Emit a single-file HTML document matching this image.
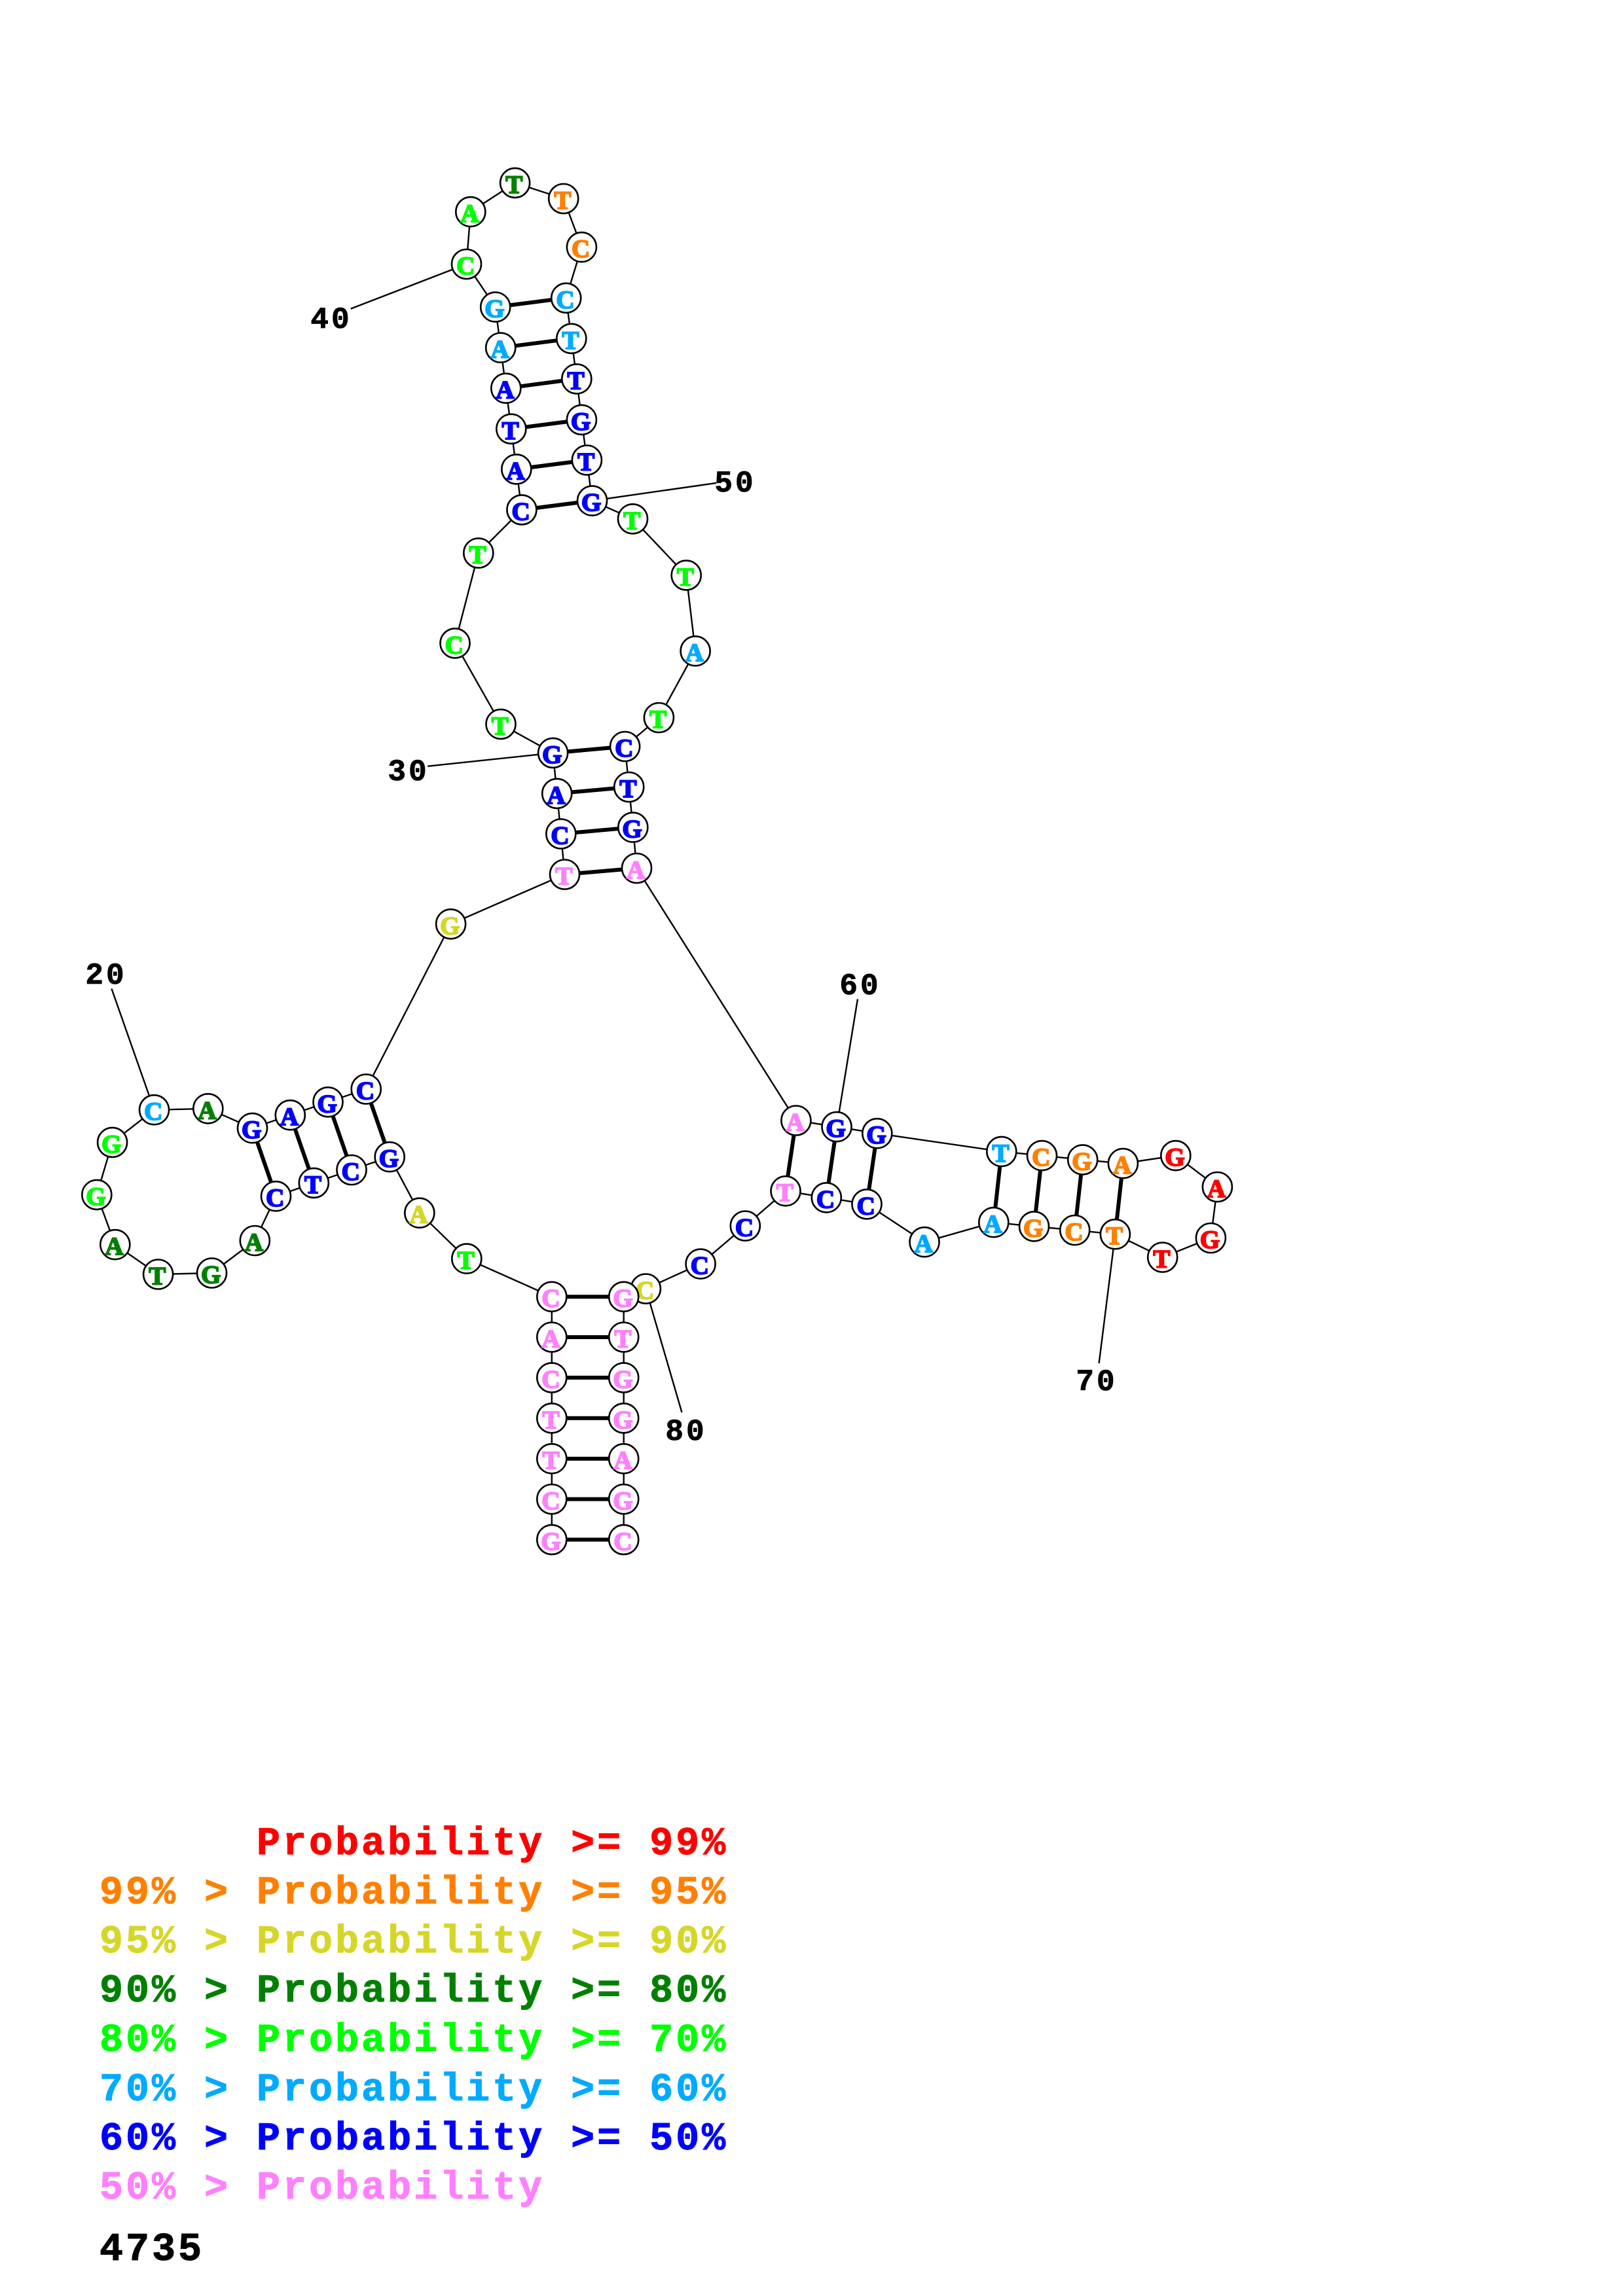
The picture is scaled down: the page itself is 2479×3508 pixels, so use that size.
<!DOCTYPE html>
<html><head><meta charset="utf-8"><style>
html,body{margin:0;padding:0;background:#fff}
svg{display:block}
.n circle{fill:#fff;stroke:#000;stroke-width:2.6}
.n text{font-family:"Liberation Serif",serif;font-weight:bold;font-size:39px;text-anchor:middle;stroke-width:2;paint-order:stroke}
.l{font-family:"Liberation Mono",monospace;font-weight:bold;font-size:46px;letter-spacing:4px;text-anchor:middle;fill:#000;stroke:#000;stroke-width:.8}
.k{font-family:"Liberation Mono",monospace;font-weight:bold;font-size:60px;letter-spacing:4px;white-space:pre;stroke-width:1}
.r{fill:#f00;stroke:#f00}.o{fill:#ff8000;stroke:#ff8000}.y{fill:#d6d62a;stroke:#d6d62a}.d{fill:#008000;stroke:#008000}.g{fill:#0f0;stroke:#0f0}.c{fill:#0af;stroke:#0af}.b{fill:#00f;stroke:#00f}.p{fill:#ff80ff;stroke:#ff80ff}
</style></head><body>
<svg xmlns="http://www.w3.org/2000/svg" width="2479" height="3508" viewBox="0 0 2479 3508">
<rect width="2479" height="3508" fill="#fff"/>
<polyline fill="none" stroke="#000" stroke-width="2.4" points="842.8,2352.4 842.8,2290.5 842.8,2228.7 842.8,2166.8 842.8,2104.9 842.8,2043 842.8,1981.2 712.8,1923.1 640.8,1853.2 595.2,1767.6 537,1787.5 479.3,1807.4 421.5,1827.7 389.3,1895.5 323.5,1945 241.6,1947 175.8,1901.6 147.8,1825.4 171.6,1745.4 235.5,1695.7 317.8,1693.8 385.5,1723.6 443.3,1703.7 501,1683.8 559.2,1664 688.6,1411.8 862.5,1336 856.8,1274 850.7,1212.4 844.6,1150.4 765,1106.4 695,982.8 730.8,845 796.9,778.9 788.8,716.9 780.8,655.3 772.8,593.2 764.7,531.2 756.7,469.1 712.5,403.5 718.8,323.6 786.6,279.4 860.7,303.5 888.4,377.6 864.7,455.3 872.8,517.3 880.8,578.9 888.4,641.4 896.4,703 904.5,765.1 966.5,792.8 1048.2,878.9 1062.1,994.7 1006.4,1096.5 954.6,1140.5 960.7,1202.5 966.8,1264.1 972.5,1326.5 1215.9,1712 1278,1721.6 1339.8,1731.7 1529.8,1759.4 1591.5,1765.6 1653.7,1771.9 1715.4,1777.6 1795.8,1765.6 1859.4,1813.5 1849.4,1891.5 1775.7,1921 1703.4,1885.7 1641.7,1879.5 1579.5,1873.8 1517.8,1867.6 1412,1897.7 1324,1839.8 1262.3,1829.8 1200,1819.7 1138.3,1873 1070.1,1931.1 986.4,1969 952.7,1981.2 952.7,2043 952.7,2104.9 952.7,2166.8 952.7,2228.7 952.7,2290.5 952.7,2352.4"/>
<g stroke="#000" stroke-width="2.4">
<line x1="235.5" y1="1695.7" x2="170.4" y2="1510.5"/>
<line x1="844.6" y1="1150.4" x2="653.2" y2="1170.7"/>
<line x1="712.5" y1="403.5" x2="535.7" y2="471.8"/>
<line x1="904.5" y1="765.1" x2="1094.2" y2="737.9"/>
<line x1="1278" y1="1721.6" x2="1310" y2="1526.4"/>
<line x1="1703.4" y1="1885.7" x2="1678.6" y2="2083"/>
<line x1="986.4" y1="1969" x2="1041.5" y2="2158"/>
</g>
<g stroke="#000" stroke-width="6">
<line x1="842.8" y1="1981.2" x2="952.7" y2="1981.2"/>
<line x1="842.8" y1="2043" x2="952.7" y2="2043"/>
<line x1="842.8" y1="2104.9" x2="952.7" y2="2104.9"/>
<line x1="842.8" y1="2166.8" x2="952.7" y2="2166.8"/>
<line x1="842.8" y1="2228.7" x2="952.7" y2="2228.7"/>
<line x1="842.8" y1="2290.5" x2="952.7" y2="2290.5"/>
<line x1="842.8" y1="2352.4" x2="952.7" y2="2352.4"/>
<line x1="595.2" y1="1767.6" x2="559.2" y2="1664"/>
<line x1="537" y1="1787.5" x2="501" y2="1683.8"/>
<line x1="479.3" y1="1807.4" x2="443.3" y2="1703.7"/>
<line x1="421.5" y1="1827.7" x2="385.5" y2="1723.6"/>
<line x1="862.5" y1="1336" x2="972.5" y2="1326.5"/>
<line x1="856.8" y1="1274" x2="966.8" y2="1264.1"/>
<line x1="850.7" y1="1212.4" x2="960.7" y2="1202.5"/>
<line x1="844.6" y1="1150.4" x2="954.6" y2="1140.5"/>
<line x1="796.9" y1="778.9" x2="904.5" y2="765.1"/>
<line x1="788.8" y1="716.9" x2="896.4" y2="703"/>
<line x1="780.8" y1="655.3" x2="888.4" y2="641.4"/>
<line x1="772.8" y1="593.2" x2="880.8" y2="578.9"/>
<line x1="764.7" y1="531.2" x2="872.8" y2="517.3"/>
<line x1="756.7" y1="469.1" x2="864.7" y2="455.3"/>
<line x1="1215.9" y1="1712" x2="1200" y2="1819.7"/>
<line x1="1278" y1="1721.6" x2="1262.3" y2="1829.8"/>
<line x1="1339.8" y1="1731.7" x2="1324" y2="1839.8"/>
<line x1="1529.8" y1="1759.4" x2="1517.8" y2="1867.6"/>
<line x1="1591.5" y1="1765.6" x2="1579.5" y2="1873.8"/>
<line x1="1653.7" y1="1771.9" x2="1641.7" y2="1879.5"/>
<line x1="1715.4" y1="1777.6" x2="1703.4" y2="1885.7"/>
</g>
<g class="n">
<circle cx="842.8" cy="2352.4" r="22.5"/><text x="841.5" y="2367.9" class="p">G</text>
<circle cx="842.8" cy="2290.5" r="22.5"/><text x="841.5" y="2306" class="p">C</text>
<circle cx="842.8" cy="2228.7" r="22.5"/><text x="841.5" y="2244.2" class="p">T</text>
<circle cx="842.8" cy="2166.8" r="22.5"/><text x="841.5" y="2182.3" class="p">T</text>
<circle cx="842.8" cy="2104.9" r="22.5"/><text x="841.5" y="2120.4" class="p">C</text>
<circle cx="842.8" cy="2043" r="22.5"/><text x="841.5" y="2058.5" class="p">A</text>
<circle cx="842.8" cy="1981.2" r="22.5"/><text x="841.5" y="1996.7" class="p">C</text>
<circle cx="712.8" cy="1923.1" r="22.5"/><text x="711.5" y="1938.6" class="g">T</text>
<circle cx="640.8" cy="1853.2" r="22.5"/><text x="639.5" y="1868.7" class="y">A</text>
<circle cx="595.2" cy="1767.6" r="22.5"/><text x="593.9" y="1783.1" class="b">G</text>
<circle cx="537" cy="1787.5" r="22.5"/><text x="535.7" y="1803" class="b">C</text>
<circle cx="479.3" cy="1807.4" r="22.5"/><text x="478" y="1822.9" class="b">T</text>
<circle cx="421.5" cy="1827.7" r="22.5"/><text x="420.2" y="1843.2" class="b">C</text>
<circle cx="389.3" cy="1895.5" r="22.5"/><text x="388" y="1911" class="d">A</text>
<circle cx="323.5" cy="1945" r="22.5"/><text x="322.2" y="1960.5" class="d">G</text>
<circle cx="241.6" cy="1947" r="22.5"/><text x="240.3" y="1962.5" class="d">T</text>
<circle cx="175.8" cy="1901.6" r="22.5"/><text x="174.5" y="1917.1" class="d">A</text>
<circle cx="147.8" cy="1825.4" r="22.5"/><text x="146.5" y="1840.9" class="g">G</text>
<circle cx="171.6" cy="1745.4" r="22.5"/><text x="170.3" y="1760.9" class="g">G</text>
<circle cx="235.5" cy="1695.7" r="22.5"/><text x="234.2" y="1711.2" class="c">C</text>
<circle cx="317.8" cy="1693.8" r="22.5"/><text x="316.5" y="1709.3" class="d">A</text>
<circle cx="385.5" cy="1723.6" r="22.5"/><text x="384.2" y="1739.1" class="b">G</text>
<circle cx="443.3" cy="1703.7" r="22.5"/><text x="442" y="1719.2" class="b">A</text>
<circle cx="501" cy="1683.8" r="22.5"/><text x="499.7" y="1699.3" class="b">G</text>
<circle cx="559.2" cy="1664" r="22.5"/><text x="557.9" y="1679.5" class="b">C</text>
<circle cx="688.6" cy="1411.8" r="22.5"/><text x="687.3" y="1427.3" class="y">G</text>
<circle cx="862.5" cy="1336" r="22.5"/><text x="861.2" y="1351.5" class="p">T</text>
<circle cx="856.8" cy="1274" r="22.5"/><text x="855.5" y="1289.5" class="b">C</text>
<circle cx="850.7" cy="1212.4" r="22.5"/><text x="849.4" y="1227.9" class="b">A</text>
<circle cx="844.6" cy="1150.4" r="22.5"/><text x="843.3" y="1165.9" class="b">G</text>
<circle cx="765" cy="1106.4" r="22.5"/><text x="763.7" y="1121.9" class="g">T</text>
<circle cx="695" cy="982.8" r="22.5"/><text x="693.7" y="998.3" class="g">C</text>
<circle cx="730.8" cy="845" r="22.5"/><text x="729.5" y="860.5" class="g">T</text>
<circle cx="796.9" cy="778.9" r="22.5"/><text x="795.6" y="794.4" class="b">C</text>
<circle cx="788.8" cy="716.9" r="22.5"/><text x="787.5" y="732.4" class="b">A</text>
<circle cx="780.8" cy="655.3" r="22.5"/><text x="779.5" y="670.8" class="b">T</text>
<circle cx="772.8" cy="593.2" r="22.5"/><text x="771.5" y="608.7" class="b">A</text>
<circle cx="764.7" cy="531.2" r="22.5"/><text x="763.4" y="546.7" class="c">A</text>
<circle cx="756.7" cy="469.1" r="22.5"/><text x="755.4" y="484.6" class="c">G</text>
<circle cx="712.5" cy="403.5" r="22.5"/><text x="711.2" y="419" class="g">C</text>
<circle cx="718.8" cy="323.6" r="22.5"/><text x="717.5" y="339.1" class="g">A</text>
<circle cx="786.6" cy="279.4" r="22.5"/><text x="785.3" y="294.9" class="d">T</text>
<circle cx="860.7" cy="303.5" r="22.5"/><text x="859.4" y="319" class="o">T</text>
<circle cx="888.4" cy="377.6" r="22.5"/><text x="887.1" y="393.1" class="o">C</text>
<circle cx="864.7" cy="455.3" r="22.5"/><text x="863.4" y="470.8" class="c">C</text>
<circle cx="872.8" cy="517.3" r="22.5"/><text x="871.5" y="532.8" class="c">T</text>
<circle cx="880.8" cy="578.9" r="22.5"/><text x="879.5" y="594.4" class="b">T</text>
<circle cx="888.4" cy="641.4" r="22.5"/><text x="887.1" y="656.9" class="b">G</text>
<circle cx="896.4" cy="703" r="22.5"/><text x="895.1" y="718.5" class="b">T</text>
<circle cx="904.5" cy="765.1" r="22.5"/><text x="903.2" y="780.6" class="b">G</text>
<circle cx="966.5" cy="792.8" r="22.5"/><text x="965.2" y="808.3" class="g">T</text>
<circle cx="1048.2" cy="878.9" r="22.5"/><text x="1046.9" y="894.4" class="g">T</text>
<circle cx="1062.1" cy="994.7" r="22.5"/><text x="1060.8" y="1010.2" class="c">A</text>
<circle cx="1006.4" cy="1096.5" r="22.5"/><text x="1005.1" y="1112" class="g">T</text>
<circle cx="954.6" cy="1140.5" r="22.5"/><text x="953.3" y="1156" class="b">C</text>
<circle cx="960.7" cy="1202.5" r="22.5"/><text x="959.4" y="1218" class="b">T</text>
<circle cx="966.8" cy="1264.1" r="22.5"/><text x="965.5" y="1279.6" class="b">G</text>
<circle cx="972.5" cy="1326.5" r="22.5"/><text x="971.2" y="1342" class="p">A</text>
<circle cx="1215.9" cy="1712" r="22.5"/><text x="1214.6" y="1727.5" class="p">A</text>
<circle cx="1278" cy="1721.6" r="22.5"/><text x="1276.7" y="1737.1" class="b">G</text>
<circle cx="1339.8" cy="1731.7" r="22.5"/><text x="1338.5" y="1747.2" class="b">G</text>
<circle cx="1529.8" cy="1759.4" r="22.5"/><text x="1528.5" y="1774.9" class="c">T</text>
<circle cx="1591.5" cy="1765.6" r="22.5"/><text x="1590.2" y="1781.1" class="o">C</text>
<circle cx="1653.7" cy="1771.9" r="22.5"/><text x="1652.4" y="1787.4" class="o">G</text>
<circle cx="1715.4" cy="1777.6" r="22.5"/><text x="1714.1" y="1793.1" class="o">A</text>
<circle cx="1795.8" cy="1765.6" r="22.5"/><text x="1794.5" y="1781.1" class="r">G</text>
<circle cx="1859.4" cy="1813.5" r="22.5"/><text x="1858.1" y="1829" class="r">A</text>
<circle cx="1849.4" cy="1891.5" r="22.5"/><text x="1848.1" y="1907" class="r">G</text>
<circle cx="1775.7" cy="1921" r="22.5"/><text x="1774.4" y="1936.5" class="r">T</text>
<circle cx="1703.4" cy="1885.7" r="22.5"/><text x="1702.1" y="1901.2" class="o">T</text>
<circle cx="1641.7" cy="1879.5" r="22.5"/><text x="1640.4" y="1895" class="o">C</text>
<circle cx="1579.5" cy="1873.8" r="22.5"/><text x="1578.2" y="1889.3" class="o">G</text>
<circle cx="1517.8" cy="1867.6" r="22.5"/><text x="1516.5" y="1883.1" class="c">A</text>
<circle cx="1412" cy="1897.7" r="22.5"/><text x="1410.7" y="1913.2" class="c">A</text>
<circle cx="1324" cy="1839.8" r="22.5"/><text x="1322.7" y="1855.3" class="b">C</text>
<circle cx="1262.3" cy="1829.8" r="22.5"/><text x="1261" y="1845.3" class="b">C</text>
<circle cx="1200" cy="1819.7" r="22.5"/><text x="1198.7" y="1835.2" class="p">T</text>
<circle cx="1138.3" cy="1873" r="22.5"/><text x="1137" y="1888.5" class="b">C</text>
<circle cx="1070.1" cy="1931.1" r="22.5"/><text x="1068.8" y="1946.6" class="b">C</text>
<circle cx="986.4" cy="1969" r="22.5"/><text x="985.1" y="1984.5" class="y">C</text>
<circle cx="952.7" cy="1981.2" r="22.5"/><text x="951.4" y="1996.7" class="p">G</text>
<circle cx="952.7" cy="2043" r="22.5"/><text x="951.4" y="2058.5" class="p">T</text>
<circle cx="952.7" cy="2104.9" r="22.5"/><text x="951.4" y="2120.4" class="p">G</text>
<circle cx="952.7" cy="2166.8" r="22.5"/><text x="951.4" y="2182.3" class="p">G</text>
<circle cx="952.7" cy="2228.7" r="22.5"/><text x="951.4" y="2244.2" class="p">A</text>
<circle cx="952.7" cy="2290.5" r="22.5"/><text x="951.4" y="2306" class="p">G</text>
<circle cx="952.7" cy="2352.4" r="22.5"/><text x="951.4" y="2367.9" class="p">C</text>
</g>
<text class="l" x="162" y="1503">20</text>
<text class="l" x="624" y="1192">30</text>
<text class="l" x="506" y="501">40</text>
<text class="l" x="1123" y="751">50</text>
<text class="l" x="1314" y="1519">60</text>
<text class="l" x="1675" y="2124">70</text>
<text class="l" x="1048" y="2200">80</text>
<g class="k">
<text x="152" y="2833" class="r" xml:space="preserve">      Probability &gt;= 99%</text>
<text x="152" y="2908" class="o" xml:space="preserve">99% &gt; Probability &gt;= 95%</text>
<text x="152" y="2983" class="y" xml:space="preserve">95% &gt; Probability &gt;= 90%</text>
<text x="152" y="3058" class="d" xml:space="preserve">90% &gt; Probability &gt;= 80%</text>
<text x="152" y="3133.5" class="g" xml:space="preserve">80% &gt; Probability &gt;= 70%</text>
<text x="152" y="3209" class="c" xml:space="preserve">70% &gt; Probability &gt;= 60%</text>
<text x="152" y="3284" class="b" xml:space="preserve">60% &gt; Probability &gt;= 50%</text>
<text x="152" y="3359" class="p" xml:space="preserve">50% &gt; Probability</text>
<text x="152" y="3453" fill="#000" stroke="#000">4735</text>
</g>
</svg>
</body></html>
